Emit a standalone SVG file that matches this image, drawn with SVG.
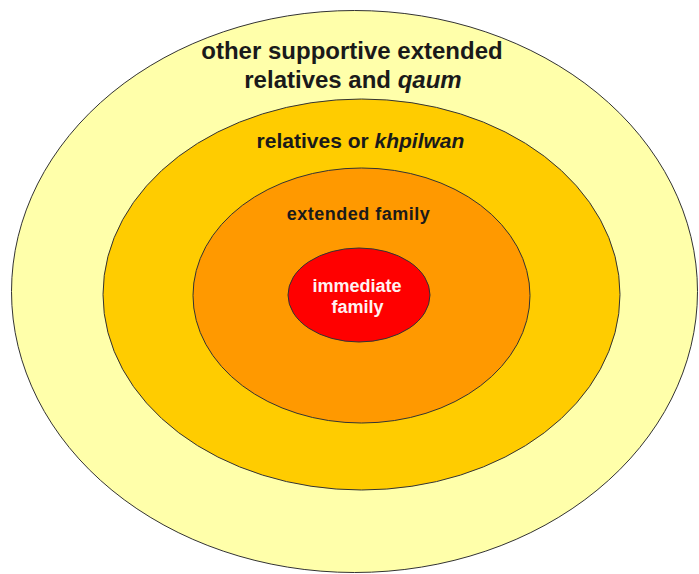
<svg xmlns="http://www.w3.org/2000/svg" width="699" height="574" viewBox="0 0 699 574">
<style>
.ring{stroke:#333;stroke-width:1}
.t{font-family:"Liberation Sans",Arial,sans-serif;font-weight:bold;text-anchor:middle;fill:#1a1a1a}
</style>
<rect width="699" height="574" fill="#fff"/>
<g id="n-outer">
<ellipse class="ring" cx="354.5" cy="291.5" rx="343" ry="281" fill="#ffffaa"/>
<text class="t" x="352" y="59" font-size="24">other supportive extended</text>
<text class="t" x="353" y="88" font-size="24">relatives and <tspan font-style="italic">qaum</tspan></text>
</g>
<g id="n-relatives">
<ellipse class="ring" cx="361.5" cy="294.5" rx="258.5" ry="195.5" fill="#ffcc00"/>
<text class="t" x="360.5" y="148" font-size="21">relatives or <tspan font-style="italic">khpilwan</tspan></text>
</g>
<g id="n-extended">
<ellipse class="ring" cx="361.5" cy="295.5" rx="168.5" ry="127.5" fill="#ff9900"/>
<text class="t" x="358.5" y="220" font-size="18" letter-spacing="0.5">extended family</text>
</g>
<g id="n-immediate">
<ellipse class="ring" cx="359" cy="295" rx="71" ry="47" fill="#ff0000" stroke="#660000"/>
<text class="t" x="357" y="292" font-size="18" fill="#fff2f2" style="fill:#fff2f2">immediate</text>
<text class="t" x="357.5" y="313" font-size="18" style="fill:#fff2f2">family</text>
</g>
<g id="connectors"/>
</svg>
